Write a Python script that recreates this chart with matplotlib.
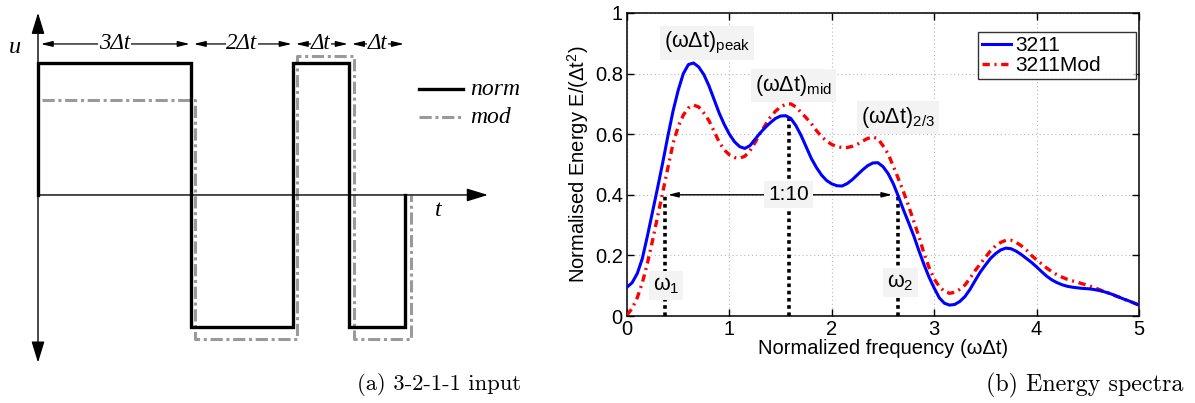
import matplotlib
matplotlib.use("Agg")
import matplotlib.pyplot as plt
import numpy as np

plt.rcParams['font.family'] = ['Liberation Sans', 'DejaVu Sans']
plt.rcParams['mathtext.fontset'] = 'custom'
plt.rcParams['mathtext.rm'] = 'Liberation Sans'
plt.rcParams['mathtext.it'] = 'Liberation Sans:italic'

# ---------------- data: left panel (3-2-1-1 input) ----------------
norm_edges = [0.0, 3.0, 5.0, 6.1, 7.2]      # switching times (in Δt)
norm_levels = [1.0, -1.0, 1.0, -1.0]
mod_edges = [0.08, 3.08, 5.08, 6.2, 7.31]
mod_levels = [0.72, -1.09, 1.05, -1.09]
seg_labels = ['3Δt', '2Δt', 'Δt', 'Δt']

# ---------------- data: right panel (energy spectra) ----------------
freq = np.round(np.arange(0, 5.0001, 0.05), 2)
energy_3211 = [0.095, 0.11, 0.14, 0.19, 0.265, 0.345, 0.425, 0.508, 0.595, 0.677,
               0.745, 0.80, 0.83, 0.835, 0.822, 0.797, 0.76, 0.715, 0.67, 0.632,
               0.60, 0.575, 0.559, 0.553, 0.562, 0.583, 0.604, 0.622, 0.638, 0.652,
               0.66, 0.661, 0.652, 0.628, 0.596, 0.558, 0.52, 0.49, 0.465, 0.447,
               0.436, 0.43, 0.429, 0.437, 0.45, 0.466, 0.482, 0.496, 0.505, 0.506,
               0.493, 0.47, 0.437, 0.395, 0.35, 0.308, 0.265, 0.216, 0.17, 0.128,
               0.092, 0.06, 0.042, 0.036, 0.038, 0.048, 0.064, 0.088, 0.117, 0.145,
               0.168, 0.19, 0.206, 0.218, 0.224, 0.222, 0.214, 0.203, 0.19, 0.177,
               0.162, 0.146, 0.131, 0.119, 0.11, 0.103, 0.098, 0.095, 0.093, 0.091,
               0.09, 0.088, 0.085, 0.081, 0.076, 0.07, 0.063, 0.056, 0.05, 0.043, 0.036]
energy_mod = [0.003, 0.025, 0.06, 0.11, 0.175, 0.25, 0.33, 0.41, 0.49, 0.57,
              0.625, 0.663, 0.687, 0.696, 0.69, 0.67, 0.645, 0.61, 0.574, 0.548,
              0.532, 0.523, 0.521, 0.527, 0.545, 0.572, 0.602, 0.63, 0.656, 0.676,
              0.69, 0.699, 0.70, 0.69, 0.672, 0.654, 0.635, 0.612, 0.592, 0.577,
              0.566, 0.559, 0.556, 0.556, 0.56, 0.567, 0.577, 0.586, 0.591, 0.585,
              0.562, 0.535, 0.495, 0.453, 0.41, 0.363, 0.313, 0.263, 0.207, 0.16,
              0.122, 0.097, 0.081, 0.075, 0.078, 0.088, 0.102, 0.125, 0.15, 0.172,
              0.194, 0.215, 0.232, 0.243, 0.25, 0.25, 0.243, 0.232, 0.218, 0.2,
              0.185, 0.172, 0.158, 0.146, 0.136, 0.128, 0.121, 0.116, 0.111, 0.106,
              0.101, 0.095, 0.089, 0.082, 0.076, 0.069, 0.063, 0.056, 0.05, 0.043, 0.036]
w1, w_mid, w2 = 0.37, 1.58, 2.65
level_bw = 0.4
peak_mid = 0.66

W, H = 1195, 403
fig = plt.figure(figsize=(W / 100, H / 100), dpi=100)

# ================= left panel =================
axL = fig.add_axes([0, 0, 520 / W, 1])
axL.set_xlim(-0.745, 9.45)
axL.set_ylim(-1.576, 1.477)
axL.axis('off')

axL.annotate('', xy=(8.82, 0), xytext=(0, 0),
             arrowprops=dict(arrowstyle='-|>,head_length=1.3,head_width=0.4', color='black', lw=1.0, shrinkA=0, shrinkB=0))
axL.annotate('', xy=(0, 1.38), xytext=(0, -1.27),
             arrowprops=dict(arrowstyle='<|-|>,head_length=1.3,head_width=0.4', color='black', lw=1.0, shrinkA=0, shrinkB=0))

def step_xy(edges, levels, start_at_zero=True):
    xs, ys = [], []
    for i, lv in enumerate(levels):
        xs += [edges[i], edges[i + 1]]
        ys += [lv, lv]
    xs.append(edges[-1]); ys.append(0)
    if start_at_zero:
        xs = [edges[0]] + xs; ys = [0] + ys
    return xs, ys

mod_style = dict(color='#9a9a9a', lw=2.2, linestyle=(0, (4, 1.2, 1, 1.2)))
mx, my = step_xy(mod_edges, mod_levels, start_at_zero=False)
axL.plot(mx, my, **mod_style)
nx, ny = step_xy(norm_edges, norm_levels)
axL.plot(nx, ny, color='black', lw=2.4, solid_joinstyle='miter')

serif_it = dict(family='Liberation Serif', style='italic')
ya = 1.144
for i, lab in enumerate(seg_labels):
    a, b = norm_edges[i], norm_edges[i + 1]
    axL.annotate('', xy=(b, ya), xytext=(a, ya),
                 arrowprops=dict(arrowstyle='<|-|>,head_length=0.7,head_width=0.17', color='black', lw=0.9,
                                 shrinkA=2, shrinkB=1))
    axL.text((a + b) / 2, ya, lab, ha='center', va='center', fontsize=16.5,
             bbox=dict(facecolor='white', edgecolor='none', pad=0.3), **serif_it)

axL.text(-0.45, 1.12, 'u', ha='center', va='center', fontsize=17.5, **serif_it)
axL.text(7.85, -0.12, 't', ha='center', va='center', fontsize=17.5, **serif_it)

axL.plot([7.47, 8.33], [0.80, 0.80], color='black', lw=2.4)
axL.text(8.47, 0.80, 'norm', ha='left', va='center', fontsize=17, **serif_it)
axL.plot([7.47, 8.33], [0.59, 0.59], **mod_style)
axL.text(8.47, 0.59, 'mod', ha='left', va='center', fontsize=17, **serif_it)

fig.text(521 / W, 1 - 385 / H, '(a) 3-2-1-1 input', ha='right', va='center', fontsize=16.3, family='cmr10')

# ================= right panel =================
axR = fig.add_axes([627 / W, 1 - 316 / H, (1139 - 627) / W, (316 - 13) / H])
axR.set_xlim(0, 5)
axR.set_ylim(0, 1)
axR.set_xticks([0, 1, 2, 3, 4, 5])
axR.set_yticks([0, 0.2, 0.4, 0.6, 0.8, 1.0])
axR.set_yticklabels(['0', '0.2', '0.4', '0.6', '0.8', '1'])
axR.grid(True, color='#b8b8b8', linestyle=(0, (1, 2.5)), lw=0.8)
axR.tick_params(direction='in', length=5, width=1, top=True, right=True, labelsize=14.5, pad=3)
for s in axR.spines.values():
    s.set_linewidth(1.1)

axR.plot(freq, energy_3211, color='#0000ff', lw=2.2, label='3211', zorder=4)
axR.plot(freq, energy_mod, color='#ff0000', lw=2.4, linestyle=(0, (2.2, 1.4, 0.6, 1.4)), label='3211Mod', zorder=3)

axR.set_xlabel('Normalized frequency (ωΔt)', fontsize=14.5, labelpad=0)
axR.set_ylabel('Normalised Energy E/(Δt$^2$)', fontsize=14.5, labelpad=3)

dot = dict(color='black', lw=2.6, linestyle=(0, (1.0, 1.0)), zorder=2)
axR.plot([w1, w1], [0, level_bw], **dot)
axR.plot([w_mid, w_mid], [0, peak_mid], **dot)
axR.plot([w2, w2], [0, level_bw], **dot)

axR.annotate('', xy=(0.40, level_bw), xytext=(2.59, level_bw),
             arrowprops=dict(arrowstyle='<|-|>,head_length=0.6,head_width=0.15', color='black', lw=1.0, shrinkA=0, shrinkB=0))

box = dict(facecolor='#f3f3f3', edgecolor='none', pad=3)
axR.text(w_mid, level_bw, '1:10', ha='center', va='center', fontsize=15, bbox=box, zorder=5)
axR.text(0.78, 0.90, '(ωΔt)$_{\\mathrm{peak}}$', ha='center', va='center', fontsize=15.5, bbox=box, zorder=5)
axR.text(1.63, 0.76, '(ωΔt)$_{\\mathrm{mid}}$', ha='center', va='center', fontsize=15.5, bbox=box, zorder=5)
axR.text(2.65, 0.655, '(ωΔt)$_{\\mathrm{2/3}}$', ha='center', va='center', fontsize=15.5, bbox=box, zorder=5)
axR.text(0.38, 0.10, 'ω$_{\\mathrm{1}}$', ha='center', va='center', fontsize=15.5, bbox=box, zorder=5)
axR.text(2.67, 0.11, 'ω$_{\\mathrm{2}}$', ha='center', va='center', fontsize=15.5, bbox=box, zorder=5)

leg = axR.legend(loc='upper left', bbox_to_anchor=(0.6855, 0.766, 0.3085, 0.171), mode='expand',
                 fontsize=15, frameon=True, fancybox=False,
                 edgecolor='black', handlelength=1.4, handletextpad=0.2, borderpad=0.2, labelspacing=0.05,
                 borderaxespad=0)
leg.get_frame().set_linewidth(1.0)

fig.text(1183 / W, 1 - 385 / H, '(b) Energy spectra', ha='right', va='center', fontsize=17.3, family='cmr10')

fig.savefig('out.png', dpi=100)
